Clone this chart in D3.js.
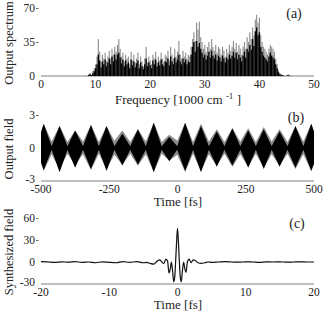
<!DOCTYPE html>
<html><head><meta charset="utf-8">
<script src="https://cdn.jsdelivr.net/npm/d3@7"></script>
<style>body{margin:0;background:#fff}svg{display:block}svg text{font-family:"Times New Roman","Liberation Serif","DejaVu Serif",serif !important}</style>
</head><body><svg id="c" width="324" height="314"></svg>
<script>
// ---------- Panel (a): output spectrum, frequency grid start/step (1000 cm^-1)
const specStart = 8.0, specStep = 0.25;
const specGray = [0,1,0,2,3,1,5,8,12,20,38,25,14,22,18,24,15,20,26,18,28,22,30,25,32,38,28,20,24,15,22,18,20,12,25,16,22,14,18,24,12,20,15,10,18,30,14,20,16,12,22,18,25,14,20,16,24,18,15,22,20,26,16,30,22,18,28,20,25,36,22,18,26,20,24,18,22,20,30,38,45,36,55,48,56,40,35,28,32,25,30,35,28,38,30,26,32,24,30,28,22,30,26,20,28,24,32,26,30,36,28,34,25,32,28,22,30,35,28,40,35,45,38,50,42,58,63,55,60,42,35,30,28,25,22,28,32,30,28,25,18,12,6,3,2,1,1,0,1,2,1,1,0];
const specBlack = [0,0,0,1,2,1,3,5,8,12,22,16,9,15,12,17,10,14,18,12,20,15,22,17,22,24,19,13,17,10,16,12,14,8,17,11,15,9,13,16,8,14,10,7,12,18,10,14,11,8,16,12,17,10,14,11,17,12,10,15,14,18,11,20,15,12,19,14,17,22,15,12,18,14,17,12,15,14,22,30,35,25,36,30,34,28,24,19,22,17,21,25,19,26,21,18,22,16,21,19,15,21,18,14,19,17,22,18,21,25,19,24,17,22,19,15,21,25,19,28,25,32,27,38,31,46,50,42,45,30,25,21,19,17,15,20,24,21,19,17,12,8,4,2,1,1,0,0,0,1,0,0,0];
const specTicks = [0,10,20,30,40,50];
const specYTicks = [0,35,70];

// ---------- Panel (b): output field envelope (lobe peaks and troughs)
const fieldT     = [-500,-490,-461,-432,-403,-375,-346,-317,-288,-260,-231,-202,-173,-145,-116,-87,-58,-30,-1,28,57,86,115,144,172,201,230,259,287,316,345,374,403,432,461,490,500];
const fieldUp    = [1.4,2.2,0.15,2.0,0.15,1.6,0.15,2.1,0.15,2.0,0.15,1.3,0.15,1.7,0.15,2.3,0.15,1.0,0.15,2.3,0.15,2.0,0.15,1.5,0.15,1.8,0.15,1.6,0.15,1.7,0.15,1.5,0.15,2.0,0.15,2.2,1.5];
const fieldLow   = [-1.3,-2.0,-0.15,-2.2,-0.15,-1.8,-0.15,-1.9,-0.15,-2.1,-0.15,-1.6,-0.15,-1.5,-0.15,-2.2,-0.15,-1.2,-0.15,-2.1,-0.15,-2.2,-0.15,-1.7,-0.15,-1.6,-0.15,-1.8,-0.15,-1.9,-0.15,-1.7,-0.15,-1.8,-0.15,-2.1,-1.4];
const fieldGray  = [1.5,2.2,0.6,2.0,0.55,1.6,0.6,2.1,0.55,2.0,0.65,1.6,0.55,1.7,0.6,2.3,0.55,1.2,0.65,2.3,0.55,2.2,0.6,1.7,0.55,1.8,0.6,1.8,0.55,1.9,0.6,1.7,0.55,2.0,0.6,2.2,1.5];
const fieldTicks = [-500,-250,0,250,500];
const fieldYTicks = [-3,0,3];

// ---------- Panel (c): synthesized field
const synT = [-20,-19,-18,-17,-16,-15,-14,-13,-12,-11,-10,-9,-8,-7,-6,-5,-4.5,-4,-3.5,-3,-2.6,-2.3,-2,-1.7,-1.45,-1.25,-1.05,-0.9,-0.72,-0.55,-0.4,-0.25,-0.12,0,0.12,0.25,0.4,0.55,0.72,0.9,1.05,1.25,1.45,1.7,2,2.3,2.6,3,3.5,4,4.5,5,6,7,8,9,10,11,12,13,14,15,16,17,18,19,20];
const synV = [0.5,0,-0.5,0.3,-0.3,0.5,-0.5,0,-1,0.3,-0.5,-1,0.5,-0.5,0.5,-1,-0.5,-2,-3,1,3,0,-2,4,1,-15,-9,0,-12,-27,-20,5,30,46,30,5,-20,-27,-12,0,-8,-14,0,4,-1,3,2,-1,-2,-1,0,-0.5,0,0.5,0,-0.3,0.3,0,-0.5,0.2,0,0.3,-0.3,0,0.3,0,0];
const synTicks = [-20,-10,0,10,20];
const synYTicks = [-30,0,30,60];

const svg = d3.select("#c");
const X0 = 41, X1 = 314;
const axisCol = "#808080";
const txtCol = "#222";

function panel(o){
  const g = svg.append("g");
  g.append("line").attr("x1",X0).attr("x2",X1).attr("y1",o.y.range()[0]).attr("y2",o.y.range()[0])
    .attr("stroke",axisCol).attr("stroke-width",1);
  g.selectAll(".xt").data(o.xticks).join("text")
    .attr("x",d=>o.x(d)).attr("y",o.y.range()[0]+12).attr("text-anchor","middle")
    .attr("font-size",11.5).attr("fill",txtCol).text(d=>d);
  g.selectAll(".yt").data(o.yticks).join("text")
    .attr("x",35).attr("y",(d,i)=>o.y(d)+(i===0 && d<0 ? 2 : 4)).attr("text-anchor","end")
    .attr("font-size",11.5).attr("fill",txtCol).text(d=>d);
  g.selectAll(".yd").data(o.yticks.filter(d=>d>0)).join("line")
    .attr("x1",36).attr("x2",38.5).attr("y1",d=>o.y(d)+0.5).attr("y2",d=>o.y(d)+0.5)
    .attr("stroke","#444").attr("stroke-width",0.8);
  g.append("text").attr("transform",`translate(${o.ytx},${o.yty}) rotate(-90)`)
    .attr("text-anchor","middle").attr("font-size",12.5).attr("fill",txtCol).text(o.ytitle);
  g.append("text").attr("x",o.lx).attr("y",o.ly).attr("text-anchor","middle").attr("font-size",14).attr("fill",txtCol).text(o.label);
  return g;
}

// (a)
const xA = d3.scaleLinear().domain([0,50]).range([X0,X1]);
const yA = d3.scaleLinear().domain([0,70]).range([76,8]);
const gA = panel({x:xA,y:yA,xticks:specTicks,yticks:specYTicks,ytitle:"Output spectrum",ytx:13,yty:43,label:"(a)",lx:294,ly:18});
const bw = xA(specStep)-xA(0);
gA.selectAll(".sg").data(specGray).join("rect")
  .attr("x",(d,i)=>xA(specStart+i*specStep)-bw*0.4).attr("width",bw*0.8)
  .attr("y",d=>yA(d)).attr("height",d=>yA(0)-yA(d)).attr("fill","#8a8a8a");
gA.selectAll(".sb").data(specBlack).join("rect")
  .attr("x",(d,i)=>xA(specStart+i*specStep)-bw*0.5).attr("width",bw)
  .attr("y",d=>yA(d)).attr("height",d=>yA(0)-yA(d)).attr("fill","#000");
const tA = gA.append("text").attr("x",178).attr("y",104).attr("text-anchor","middle").attr("font-size",13).attr("fill",txtCol);
tA.append("tspan").text("Frequency [1000 cm ");
tA.append("tspan").attr("dy",-5).attr("font-size",9).text("-1");
tA.append("tspan").attr("dy",5).text(" ]");

// (b)
const xB = d3.scaleLinear().domain([-500,500]).range([X0,X1]);
const yB = d3.scaleLinear().domain([-3,3]).range([181,115]);
const gB = panel({x:xB,y:yB,xticks:fieldTicks,yticks:fieldYTicks,ytitle:"Output field",ytx:13,yty:149,label:"(b)",lx:296,ly:122});
const idx = d3.range(fieldT.length);
gB.append("path").datum(idx).attr("fill","#8a8a8a")
  .attr("d",d3.area().x(i=>xB(fieldT[i])).y0(i=>yB(-fieldGray[i]*0.95)).y1(i=>yB(fieldGray[i])));
gB.append("path").datum(idx).attr("fill","#000")
  .attr("d",d3.area().x(i=>xB(fieldT[i])).y0(i=>yB(fieldLow[i])).y1(i=>yB(fieldUp[i])));
gB.append("text").attr("x",178).attr("y",206).attr("text-anchor","middle").attr("font-size",13).attr("fill",txtCol).text("Time [fs]");

// (c)
const xC = d3.scaleLinear().domain([-20,20]).range([X0,X1]);
const yC = d3.scaleLinear().domain([-30,60]).range([284,218]);
const gC = panel({x:xC,y:yC,xticks:synTicks,yticks:synYTicks,ytitle:"Synthesized field",ytx:13,yty:252,label:"(c)",lx:297,ly:228});
gC.append("path").datum(d3.range(synT.length)).attr("fill","none").attr("stroke","#111").attr("stroke-width",1.2)
  .attr("d",d3.line().x(i=>xC(synT[i])).y(i=>yC(synV[i])).curve(d3.curveMonotoneX));
gC.append("text").attr("x",178).attr("y",309).attr("text-anchor","middle").attr("font-size",13).attr("fill",txtCol).text("Time [fs]");
</script></body></html>
